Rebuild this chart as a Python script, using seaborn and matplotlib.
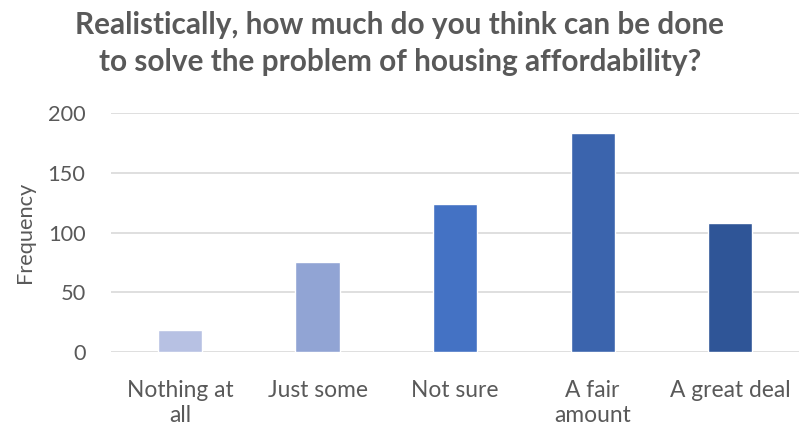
import matplotlib
matplotlib.use("Agg")
import matplotlib.pyplot as plt
import seaborn as sns
import pandas as pd

# Survey answers and counts
categories = ["Nothing at\nall", "Just some", "Not sure", "A fair\namount", "A great deal"]
counts = [18, 75, 124, 183, 108]
bar_colors = ["#B7C1E3", "#91A4D4", "#4472C4", "#3B64AD", "#2F5597"]
y_ticks = [0, 50, 100, 150, 200]
title_lines = ["Realistically, how much do you think can be done",
               "to solve the problem of housing affordability?"]

df = pd.DataFrame({"answer": categories, "count": counts})

sns.set_style("white")
plt.rcParams["font.family"] = ["Lato", "DejaVu Sans"]

W, H = 812, 429
fig = plt.figure(figsize=(W / 100, H / 100), dpi=100)
ax = fig.add_axes([0.137, 0.1795, 0.8467, 0.557])

sns.barplot(data=df, x="answer", y="count", hue="answer", palette=bar_colors,
            width=0.32, legend=False, ax=ax, saturation=1)

grey = "#595959"
ax.set_ylim(0, 200)
ax.set_xlim(-0.5, 4.5)
ax.set_yticks(y_ticks)
ax.yaxis.grid(True, color="#D9D9D9", linewidth=1.2)
ax.set_axisbelow(True)
for s in ax.spines.values():
    s.set_visible(False)
ax.tick_params(axis="y", length=0, labelsize=15.7, labelcolor=grey, pad=18.5)
ax.tick_params(axis="x", length=0, labelsize=16.4, labelcolor=grey, pad=20)
for lbl in ax.get_xticklabels():
    lbl.set_linespacing(1.25)
ax.set_xlabel("")
ax.set_ylabel("Frequency", fontsize=15.7, color=grey, labelpad=9)

# two title lines, each on its own baseline; size fitted to the first line's width
t1 = fig.text(400 / W, 1 - 34 / H, title_lines[0], ha="center", va="baseline",
              fontsize=20, fontweight="bold", color=grey)
t2 = fig.text(400 / W, 1 - 71 / H, title_lines[1], ha="center", va="baseline",
              fontsize=20, fontweight="bold", color=grey)
fig.canvas.draw()
fs = 20 * 648 / t1.get_window_extent().width
t1.set_fontsize(fs)
t2.set_fontsize(fs)

fig.savefig("out.png", dpi=100)
